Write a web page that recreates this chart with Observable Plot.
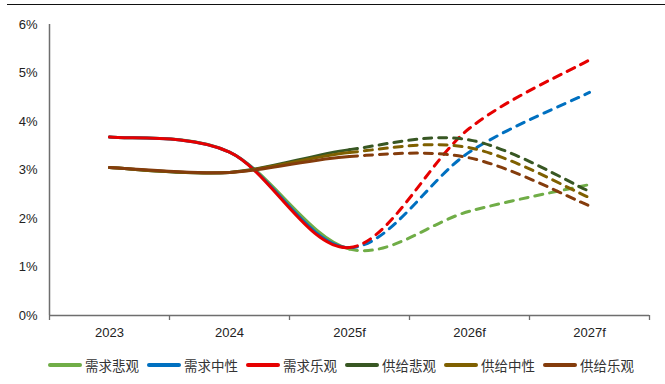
<!DOCTYPE html>
<html>
<head>
<meta charset="utf-8">
<script src="https://cdn.jsdelivr.net/npm/d3@7"></script>
<script src="https://cdn.jsdelivr.net/npm/@observablehq/plot@0.6"></script>
<style>
  html, body { margin: 0; padding: 0; background: #fff; }
  #wrap { position: relative; width: 665px; height: 384px; }
  #topline { position: absolute; top: 4px; left: 7px; right: 0; border-top: 1.6px solid #111; }
  #legend {
    display: flex; align-items: center; padding-left: 48px; height: 39px;
    font-family: "Noto Sans CJK SC", sans-serif; font-size: 13.5px; color: #333;
  }
  .item { display: flex; align-items: center; margin-right: 8px; }
  .sw { width: 34px; height: 4px; border-radius: 2px; margin-right: 3px; }
</style>
</head>
<body>
<div id="wrap">
  <div id="topline"></div>
  <div id="chart"></div>
  <div id="legend"></div>
</div>
<script>
// Categories and tick labels
const years = ["2023", "2024", "2025f", "2026f", "2027f"];
const yTicks = [0, 1, 2, 3, 4, 5, 6];

// Scenario names and colours
const seriesNames = ["需求悲观", "需求中性", "需求乐观", "供给悲观", "供给中性", "供给乐观"];
const seriesColors = ["#70AD47", "#0070C0", "#E60000", "#385723", "#7F6000", "#843C0C"];

// Growth rates (%) per scenario; 2023–2025f history, 2025f–2027f forecast
const demandPessimistic = [3.68, 3.37, 1.37, 2.15, 2.70];
const demandNeutral     = [3.68, 3.37, 1.40, 3.37, 4.60];
const demandOptimistic  = [3.68, 3.37, 1.40, 3.86, 5.27];
const supplyPessimistic = [3.05, 2.95, 3.42, 3.62, 2.56];
const supplyNeutral     = [3.05, 2.95, 3.36, 3.46, 2.43];
const supplyOptimistic  = [3.05, 2.95, 3.28, 3.25, 2.26];

const seriesValues = [demandPessimistic, demandNeutral, demandOptimistic,
                      supplyPessimistic, supplyNeutral, supplyOptimistic];

const rows = seriesValues.flatMap((vals, s) =>
  vals.map((v, i) => ({series: seriesNames[s], i, value: v})));

// Smoothed spline over all points of a series, emitting only segments [from, to)
function splineSegments(from, to) {
  return (context) => {
    let pts = [];
    return {
      areaStart() {}, areaEnd() {},
      lineStart() { pts = []; },
      point(x, y) { pts.push([+x, +y]); },
      lineEnd() {
        const n = pts.length;
        const at = (k) => pts[Math.max(0, Math.min(n - 1, k))];
        context.moveTo(at(from)[0], at(from)[1]);
        for (let k = from; k < Math.min(to, n - 1); k++) {
          const p0 = at(k - 1), p1 = at(k), p2 = at(k + 1), p3 = at(k + 2);
          context.bezierCurveTo(
            p1[0] + (p2[0] - p0[0]) / 6, p1[1] + (p2[1] - p0[1]) / 6,
            p2[0] - (p3[0] - p1[0]) / 6, p2[1] - (p3[1] - p1[1]) / 6,
            p2[0], p2[1]);
        }
      }
    };
  };
}

const historyEnd = years.indexOf("2025f");
const bandEdges = years.map((_, i) => i - 0.5).concat(years.length - 0.5);
const axisColor = "#6e6e6e";

const lineMarks = seriesNames.flatMap((name, s) => {
  const data = rows.filter(d => d.series === name);
  return [
    Plot.line(data, {x: "i", y: "value", stroke: seriesColors[s], strokeWidth: 3,
      curve: splineSegments(0, historyEnd)}),
    Plot.line(data, {x: "i", y: "value", stroke: seriesColors[s], strokeWidth: 3,
      strokeDasharray: "8,7", strokeLinecap: "round",
      curve: splineSegments(historyEnd, years.length - 1)})
  ];
});

const chart = Plot.plot({
  width: 665,
  height: 345,
  marginLeft: 49,
  marginRight: 16,
  marginTop: 24,
  marginBottom: 30,
  style: {fontFamily: "'Liberation Sans', Arial, sans-serif", fontSize: "13px", color: "#222", background: "#fff"},
  x: {domain: [-0.5, years.length - 0.5], axis: null},
  y: {domain: [0, 6], axis: null},
  marks: [
    Plot.axisY({ticks: yTicks, tickSize: 0, tickPadding: 12, tickFormat: d => d + "%", label: null, fontSize: 13}),
    Plot.axisX({ticks: years.map((_, i) => i), tickSize: 0, tickPadding: 12, tickFormat: i => years[i], label: null, fontSize: 13}),
    Plot.axisX({ticks: bandEdges, tickSize: 5, tickFormat: () => "", label: null, stroke: axisColor, strokeWidth: 1.3}),
    Plot.ruleX([-0.5], {y1: 0, y2: 6, stroke: axisColor, strokeWidth: 1.5}),
    Plot.ruleY([0], {stroke: axisColor, strokeWidth: 1.5}),
    ...lineMarks
  ]
});
document.getElementById("chart").append(chart);

// Legend with line swatches
const legend = document.getElementById("legend");
seriesNames.forEach((name, s) => {
  const item = document.createElement("div");
  item.className = "item";
  const sw = document.createElement("div");
  sw.className = "sw";
  sw.style.background = seriesColors[s];
  const label = document.createElement("span");
  label.textContent = name;
  item.append(sw, label);
  legend.append(item);
});
</script>
</body>
</html>
